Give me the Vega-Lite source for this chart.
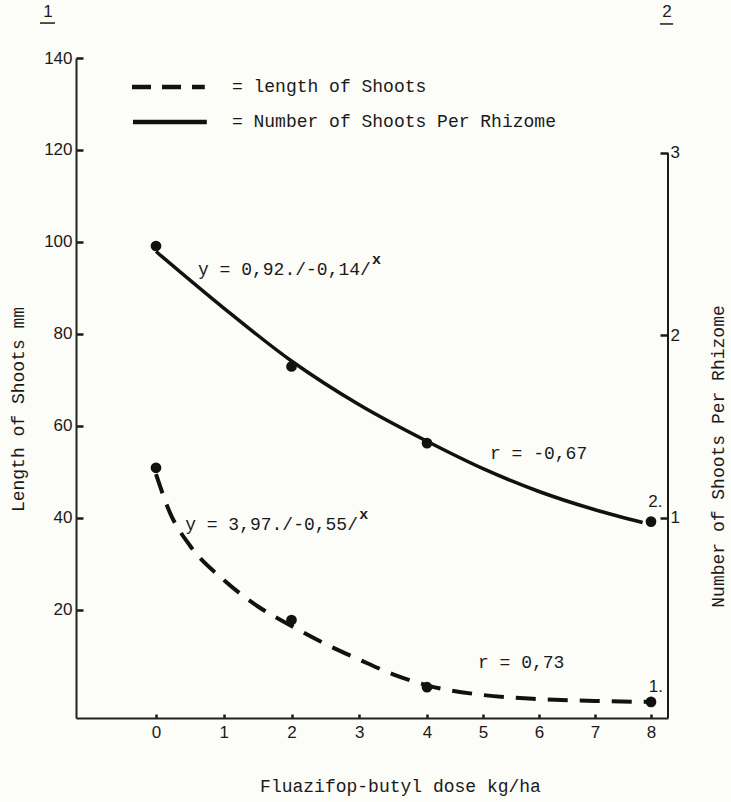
{
  "$schema": "https://vega.github.io/schema/vega-lite/v6.json",
  "width": 592,
  "height": 660,
  "autosize": {"type": "none"},
  "padding": {"left": 76, "top": 58, "right": 63, "bottom": 84},
  "background": "#fcfcf8",
  "config": {
    "view": {"stroke": null},
    "axis": {
      "grid": false,
      "labelFont": "Liberation Sans",
      "labelFontSize": 17,
      "labelColor": "#1a1a1a",
      "titleFont": "Liberation Mono",
      "titleFontSize": 18,
      "titleFontWeight": "normal",
      "titleColor": "#1a1a1a",
      "domainColor": "#1c261c",
      "domainWidth": 2,
      "tickColor": "#1a1a1a",
      "tickWidth": 2.5,
      "format": "d"
    },
    "text": {"font": "Liberation Mono", "fontSize": 18, "color": "#1a1a1a", "align": "left", "baseline": "middle"}
  },
  "datasets": {
    "length_obs": [
      {"dose": 0, "length_mm": 50.9},
      {"dose": 2, "length_mm": 17.8},
      {"dose": 4, "length_mm": 3.2},
      {"dose": 8, "length_mm": 0}
    ],
    "length_fit": [
      {"dose": 0, "length_mm": 49.5},
      {"dose": 0.21, "length_mm": 41},
      {"dose": 0.5, "length_mm": 34},
      {"dose": 1, "length_mm": 26.5},
      {"dose": 1.5, "length_mm": 20.8},
      {"dose": 2, "length_mm": 16.5},
      {"dose": 2.5, "length_mm": 12.6},
      {"dose": 3, "length_mm": 9.2},
      {"dose": 3.5, "length_mm": 6.0},
      {"dose": 4, "length_mm": 3.6},
      {"dose": 5, "length_mm": 1.5},
      {"dose": 6, "length_mm": 0.6},
      {"dose": 7, "length_mm": 0.2},
      {"dose": 8, "length_mm": 0}
    ],
    "shoots_obs": [
      {"dose": 0, "shoots": 2.49},
      {"dose": 2, "shoots": 1.83},
      {"dose": 4, "shoots": 1.41},
      {"dose": 8, "shoots": 0.98}
    ],
    "shoots_fit": [
      {"dose": 0, "shoots": 2.46},
      {"dose": 1, "shoots": 2.15},
      {"dose": 2, "shoots": 1.86},
      {"dose": 3, "shoots": 1.62},
      {"dose": 4, "shoots": 1.42},
      {"dose": 5, "shoots": 1.27},
      {"dose": 6, "shoots": 1.145},
      {"dose": 7, "shoots": 1.045},
      {"dose": 7.85, "shoots": 0.975}
    ]
  },
  "layer": [
    {
      "layer": [
        {
          "data": {"name": "length_fit"},
          "mark": {"type": "line", "interpolate": "monotone", "strokeDash": [20, 12], "strokeWidth": 4, "color": "#111111"},
          "encoding": {
            "x": {"field": "dose", "type": "quantitative",
              "scale": {"domain": [-1.2, 0, 4, 8, 8.3], "range": [0, 80, 351, 575, 592], "nice": false, "zero": false},
              "axis": {"title": "Fluazifop-butyl dose kg/ha", "values": [0, 1, 2, 3, 4, 5, 6, 7, 8], "tickSize": -4, "labelPadding": 10, "titleX": 324, "titleY": 68, "titleBaseline": "middle"}},
            "y": {"field": "length_mm", "type": "quantitative",
              "scale": {"domain": [-3.5, 140], "nice": false, "zero": false},
              "axis": {"title": "Length of Shoots mm", "values": [20, 40, 60, 80, 100, 120, 140], "tickSize": -7, "labelPadding": 11, "titleX": -58, "titleY": 351, "titleAngle": 270, "titleBaseline": "middle", "titleAlign": "center"}}
          }
        },
        {
          "data": {"name": "length_obs"},
          "mark": {"type": "circle", "size": 115, "opacity": 1, "color": "#111111"},
          "encoding": {
            "x": {"field": "dose", "type": "quantitative", "scale": {"domain": [-1.2, 0, 4, 8, 8.3], "range": [0, 80, 351, 575, 592], "nice": false, "zero": false}},
            "y": {"field": "length_mm", "type": "quantitative", "scale": {"domain": [-3.5, 140], "nice": false, "zero": false}}
          }
        },
        {
          "data": {"values": [{}]},
          "mark": {"type": "rule", "strokeDash": [19, 11], "strokeWidth": 4.5, "color": "#111111"},
          "encoding": {
            "x": {"datum": -0.36, "type": "quantitative"},
            "x2": {"datum": 0.72},
            "y": {"datum": 133.7, "type": "quantitative"}
          }
        },
        {
          "data": {"values": [{}]},
          "mark": {"type": "rule", "strokeWidth": 4.5, "color": "#111111"},
          "encoding": {
            "x": {"datum": -0.345, "type": "quantitative"},
            "x2": {"datum": 0.75},
            "y": {"datum": 126.1, "type": "quantitative"}
          }
        },
        {
          "data": {"values": [{}]},
          "mark": {"type": "text", "text": "= length of Shoots"},
          "encoding": {"x": {"datum": 1.12, "type": "quantitative"}, "y": {"datum": 133.7, "type": "quantitative"}}
        },
        {
          "data": {"values": [{}]},
          "mark": {"type": "text", "text": "= Number of Shoots Per Rhizome"},
          "encoding": {"x": {"datum": 1.12, "type": "quantitative"}, "y": {"datum": 126.1, "type": "quantitative"}}
        },
        {
          "data": {"values": [{}]},
          "mark": {"type": "text", "text": "y = 0,92./-0,14/"},
          "encoding": {"x": {"datum": 0.62, "type": "quantitative"}, "y": {"datum": 93.9, "type": "quantitative"}}
        },
        {
          "data": {"values": [{}]},
          "mark": {"type": "text", "text": "x", "fontSize": 15, "fontWeight": "bold"},
          "encoding": {"x": {"datum": 3.19, "type": "quantitative"}, "y": {"datum": 96.3, "type": "quantitative"}}
        },
        {
          "data": {"values": [{}]},
          "mark": {"type": "text", "text": "y = 3,97./-0,55/"},
          "encoding": {"x": {"datum": 0.43, "type": "quantitative"}, "y": {"datum": 38.5, "type": "quantitative"}}
        },
        {
          "data": {"values": [{}]},
          "mark": {"type": "text", "text": "x", "fontSize": 15, "fontWeight": "bold"},
          "encoding": {"x": {"datum": 3.0, "type": "quantitative"}, "y": {"datum": 40.9, "type": "quantitative"}}
        },
        {
          "data": {"values": [{}]},
          "mark": {"type": "text", "text": "r = -0,67"},
          "encoding": {"x": {"datum": 5.125, "type": "quantitative"}, "y": {"datum": 53.9, "type": "quantitative"}}
        },
        {
          "data": {"values": [{}]},
          "mark": {"type": "text", "text": "r = 0,73"},
          "encoding": {"x": {"datum": 4.91, "type": "quantitative"}, "y": {"datum": 8.45, "type": "quantitative"}}
        },
        {
          "data": {"values": [{}]},
          "mark": {"type": "text", "text": "2.", "font": "Liberation Sans", "fontSize": 17},
          "encoding": {"x": {"datum": 7.95, "type": "quantitative"}, "y": {"datum": 43.5, "type": "quantitative"}}
        },
        {
          "data": {"values": [{}]},
          "mark": {"type": "text", "text": "1.", "font": "Liberation Sans", "fontSize": 17},
          "encoding": {"x": {"datum": 7.96, "type": "quantitative"}, "y": {"datum": 3.2, "type": "quantitative"}}
        },
        {
          "data": {"values": [{}]},
          "mark": {"type": "text", "text": "1", "font": "Liberation Sans", "fontSize": 17, "align": "center"},
          "encoding": {"x": {"datum": -1.62, "type": "quantitative"}, "y": {"datum": 150, "type": "quantitative"}}
        },
        {
          "data": {"values": [{}]},
          "mark": {"type": "text", "text": "2", "font": "Liberation Sans", "fontSize": 17, "align": "center"},
          "encoding": {"x": {"datum": 8.28, "type": "quantitative"}, "y": {"datum": 150, "type": "quantitative"}}
        },
        {
          "data": {"values": [{}]},
          "mark": {"type": "rule", "strokeWidth": 1.5, "color": "#1a1a1a"},
          "encoding": {"x": {"datum": -1.74, "type": "quantitative"}, "x2": {"datum": -1.515}, "y": {"datum": 147.6, "type": "quantitative"}}
        },
        {
          "data": {"values": [{}]},
          "mark": {"type": "rule", "strokeWidth": 1.5, "color": "#1a1a1a"},
          "encoding": {"x": {"datum": 8.16, "type": "quantitative"}, "x2": {"datum": 8.39}, "y": {"datum": 147.4, "type": "quantitative"}}
        },
        {
          "data": {"values": [{}]},
          "mark": {"type": "rule", "strokeWidth": 2, "color": "#1a1a1a"},
          "encoding": {"x": {"datum": 8.3, "type": "quantitative"}, "y": {"datum": -3.5, "type": "quantitative"}, "y2": {"datum": 119.3}}
        }
      ]
    },
    {
      "layer": [
        {
          "data": {"name": "shoots_fit"},
          "mark": {"type": "line", "interpolate": "monotone", "strokeWidth": 3.5, "color": "#111111"},
          "encoding": {
            "x": {"field": "dose", "type": "quantitative",
              "scale": {"domain": [-1.2, 0, 4, 8, 8.3], "range": [0, 80, 351, 575, 592], "nice": false, "zero": false},
              "axis": {"title": "Fluazifop-butyl dose kg/ha", "values": [0, 1, 2, 3, 4, 5, 6, 7, 8], "tickSize": -4, "labelPadding": 10, "titleX": 324, "titleY": 68, "titleBaseline": "middle"}},
            "y": {"field": "shoots", "type": "quantitative",
              "scale": {"domain": [-0.096, 3.52], "nice": false, "zero": false},
              "axis": {"orient": "right", "domain": false, "title": "Number of Shoots Per Rhizome", "values": [1, 2, 3], "tickSize": -8, "labelPadding": 10, "titleX": 50, "titleY": 398, "titleAngle": 270, "titleBaseline": "middle", "titleAlign": "center"}}
          }
        },
        {
          "data": {"name": "shoots_obs"},
          "mark": {"type": "circle", "size": 115, "opacity": 1, "color": "#111111"},
          "encoding": {
            "x": {"field": "dose", "type": "quantitative", "scale": {"domain": [-1.2, 0, 4, 8, 8.3], "range": [0, 80, 351, 575, 592], "nice": false, "zero": false}},
            "y": {"field": "shoots", "type": "quantitative", "scale": {"domain": [-0.096, 3.52], "nice": false, "zero": false}}
          }
        }
      ]
    }
  ],
  "resolve": {"scale": {"y": "independent"}}
}
